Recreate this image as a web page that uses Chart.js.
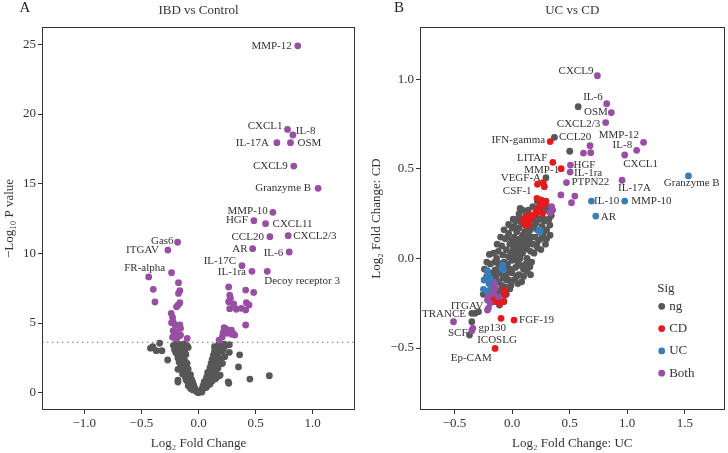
<!DOCTYPE html>
<html>
<head>
<meta charset="utf-8">
<script src="https://cdn.jsdelivr.net/npm/chart.js@4"></script>
<style>
  html, body { margin: 0; padding: 0; background: #fff; }
  #wrap { width: 728px; height: 453px; display: flex; }
  .cell { width: 364px; height: 453px; position: relative; }
  canvas { display: block; }
</style>
</head>
<body>
<div id="wrap">
  <div class="cell"><canvas id="cA" width="364" height="453"></canvas></div>
  <div class="cell"><canvas id="cB" width="364" height="453"></canvas></div>
</div>
<script>
// ---------------- DATA ----------------
// Panel A: IBD vs Control  [log2FC, -log10 P, label]
const ibdNotSig = [
  [-0.22,3.40],[-0.20,3.50],[-0.18,3.30],[-0.15,3.45],[-0.13,3.50],[-0.10,3.38],[-0.21,3.10],[-0.17,3.00],
  [-0.14,3.15],[-0.12,2.95],[-0.19,2.80],[-0.16,2.70],[-0.13,2.60],[-0.20,2.90],[-0.11,2.75],[-0.15,2.45],
  [-0.12,2.30],[-0.17,2.20],[-0.10,2.10],[-0.14,2.00],[-0.11,1.85],[-0.16,1.80],[-0.09,1.70],[-0.13,1.55],
  [-0.10,1.40],[-0.07,1.30],[-0.12,1.20],[-0.08,1.10],[-0.06,0.95],[-0.10,0.85],[-0.05,0.75],[-0.08,0.60],
  [-0.04,0.50],[-0.06,0.40],[-0.03,0.30],[-0.02,0.15],[-0.05,0.20],[-0.01,0.05],[-0.09,0.50],[-0.11,0.95],
  [-0.07,0.30],[-0.14,1.35],[-0.18,1.68],[-0.18,0.91],[-0.18,0.77],[-0.27,2.35],[-0.40,3.30],[-0.34,3.55],
  [-0.37,3.02],[-0.32,3.02],[-0.42,3.20],[-0.19,3.55],[-0.16,3.20],[-0.09,3.25],[-0.18,2.50],[-0.14,2.80],
  [-0.12,1.70],[-0.08,0.80],
  [0.18,3.55],[0.20,3.45],[0.22,3.50],[0.25,3.42],[0.27,3.45],[0.16,3.30],[0.19,3.15],[0.14,3.00],
  [0.17,2.85],[0.21,2.95],[0.13,2.70],[0.16,2.55],[0.12,2.40],[0.19,2.45],[0.15,2.25],[0.11,2.10],
  [0.20,2.10],[0.14,1.95],[0.10,1.80],[0.17,1.75],[0.12,1.60],[0.08,1.45],[0.15,1.50],[0.10,1.30],
  [0.13,1.15],[0.07,1.10],[0.09,0.95],[0.12,0.85],[0.05,0.80],[0.08,0.65],[0.04,0.50],[0.06,0.35],
  [0.03,0.25],[0.02,0.10],[0.10,0.60],[0.15,1.00],[0.19,1.27],[0.23,2.58],[0.21,2.11],[0.27,2.90],
  [0.36,2.72],[0.35,1.85],[0.45,0.98],[0.62,1.22],[0.26,0.78],[0.265,0.68],[0.18,2.00],[0.22,3.20],
  [0.00,0.00],[0.01,0.08],[-0.02,0.10],[0.03,0.05],[0.14,3.30],[0.18,1.20],[0.07,0.40]
];
const ibdSig = [
  [0.869,24.9,'MMP-12'],[0.779,18.9,'CXCL1'],[0.826,18.5,'IL-8'],[0.686,17.95,'IL-17A'],[0.805,17.95,'OSM'],
  [0.834,16.27,'CXCL9'],[1.047,14.67,'Granzyme B'],[0.651,12.95,'MMP-10'],[0.485,12.35,'HGF'],
  [0.587,12.13,'CXCL11'],[0.625,11.2,'CCL20'],[0.785,11.27,'CXCL2/3'],[0.474,10.34,'AR'],[0.794,10.1,'IL-6'],
  [0.381,9.12,'IL-17C'],[0.468,8.71,'IL-1ra'],[0.602,8.71,'Decoy receptor 3'],[-0.183,10.8,'Gas6'],
  [-0.268,10.24,'ITGAV'],[-0.436,8.31,'FR-alpha'],
  [-0.236,8.61],[-0.396,7.42],[-0.381,6.51],[-0.175,7.9],[-0.163,7.32],[-0.175,7.13],[-0.163,6.46],
  [-0.178,6.3],[-0.192,6.17],[-0.239,5.7],[-0.227,5.41],[-0.222,5.1],[-0.236,5.03],[-0.204,4.86],
  [-0.163,4.86],[-0.157,4.62],[-0.222,4.45],[-0.192,4.38],[-0.157,4.14],[-0.227,3.98],[-0.192,3.9],
  [-0.099,3.9],[-0.17,4.05],[-0.21,4.2],
  [0.264,7.59],[0.273,7.01],[0.279,6.78],[0.413,7.37],[0.483,7.2],[0.264,6.53],[0.308,6.37],[0.419,6.46],
  [0.442,6.3],[0.331,5.99],[0.375,6.06],[0.413,5.94],[0.273,6.03],[0.413,4.86],[0.244,4.57],[0.288,4.5],
  [0.258,4.26],[0.302,4.26],[0.215,4.31],[0.224,4.67],[0.293,4.19],[0.317,4.14],[0.18,3.78],[0.209,4.02]
];
const ibdThreshold = 3.62;
const ibdXTicks = [-1.0, -0.5, 0.0, 0.5, 1.0];
const ibdYTicks = [0, 5, 10, 15, 20, 25];

// Panel B: UC vs CD  [log2FC UC, log2FC CD, label]
const ucNg = [
  [0.368,0.677,'CCL20'],[0.574,0.848],[0.501,0.599],[0.294,0.451],
  [-0.292,-0.297,'ITGAV'],[-0.321,-0.306],[-0.35,-0.306],[-0.35,-0.353],[-0.37,-0.427,'SCF'],
  [-0.197,0.023],[-0.134,0.001],[-0.119,-0.027],[-0.148,-0.064],[-0.076,-0.083],[-0.047,-0.12],
  [0.083,-0.13],[0.155,-0.046],[0.212,0.075],[0.256,0.113],[0.328,0.187],[0.271,0.224],[0.06,0.249],
  [-0.18,-0.12],[-0.16,-0.15],[-0.14,-0.10],[-0.12,-0.13],[-0.10,-0.08],[-0.11,-0.18],[-0.09,-0.15],
  [-0.13,-0.20],[-0.08,-0.11],[-0.06,-0.06],[-0.07,-0.02],[-0.05,-0.09],[-0.04,-0.03],[-0.03,0.01],
  [-0.02,-0.06],[-0.01,0.03],[0.00,-0.01],[0.01,0.05],[0.02,0.00],[0.03,0.07],[0.04,0.03],[0.05,0.09],
  [0.06,0.04],[0.07,0.11],[0.08,0.07],[0.09,0.13],[0.10,0.09],[0.11,0.15],[0.12,0.11],[0.13,0.18],
  [0.14,0.14],[0.15,0.20],[0.16,0.16],[0.17,0.12],[0.18,0.22],[0.19,0.18],[0.20,0.24],[0.21,0.20],
  [0.22,0.16],[0.24,0.22],[0.26,0.18],[0.28,0.21],[0.30,0.16],[0.32,0.22],[-0.05,0.05],[-0.08,0.02],
  [-0.10,-0.03],[-0.12,-0.06],[-0.15,-0.02],[0.00,0.10],[0.02,0.12],[0.04,0.15],[-0.02,0.08],[0.06,0.17],
  [0.08,0.20],[0.10,0.22],[0.12,0.24],[0.00,-0.08],[0.03,-0.05],[0.05,-0.02],[0.07,0.00],[0.09,0.03],
  [0.11,0.05],[0.13,0.07],[0.15,0.10],[0.10,-0.06],[0.13,0.00],[0.06,-0.09],[-0.03,-0.12],[-0.06,-0.16],
  [-0.09,-0.20],[-0.15,-0.22],[-0.20,-0.14],[-0.17,-0.08],[-0.22,-0.10],[-0.24,-0.06],[0.18,0.08],
  [0.20,0.12],[0.23,0.10],[0.16,0.04],[0.25,0.27],[0.14,0.27],[0.02,0.18],[-0.04,0.12],[0.35,0.27],
  [0.31,0.29],[-0.01,-0.15],[0.04,-0.10],[0.08,-0.04],[-0.20,-0.18],[-0.25,-0.20],[0.30,0.11],
  [-0.12,0.04],[-0.09,0.07],[-0.06,0.11],[-0.03,0.14],[0.00,0.17],[0.03,0.21],[0.06,0.23],[-0.16,0.03],
  [-0.13,0.08],[-0.10,0.12],[-0.07,0.16],[0.10,-0.10],[0.13,-0.07],[0.17,-0.02],[0.19,0.03],[0.22,0.06],
  [0.25,0.05],[0.27,0.14],[0.29,0.08],[0.33,0.13],[0.02,-0.12],[-0.02,-0.17],[-0.05,-0.20],[0.05,-0.14],
  [0.12,-0.03],[0.16,-0.09],[0.24,0.15],[0.26,0.30],[0.22,0.32],[0.18,0.29],[-0.07,-0.24],[-0.11,-0.26],
  [-0.03,0.19],[0.09,0.27],[0.34,0.24],[0.29,0.27],[-0.19,-0.03],[-0.22,-0.02],[0.01,0.22],[0.07,0.28]
];
const ucCD = [
  [0.331,0.653,'IFN-gamma'],[0.354,0.537,'LITAF'],[0.426,0.502,'MMP-1'],[0.221,0.415,'VEGF-A'],
  [0.271,0.424],[0.28,0.401],[0.216,0.336,'CSF-1'],[0.294,0.321],
  [0.251,0.327],[0.279,0.308],[0.236,0.289],[0.207,0.261],[0.264,0.253],[0.178,0.234],[0.149,0.215],
  [0.121,0.206],[0.106,0.197],[0.135,0.187],[0.097,0.215],[0.126,0.234],[0.155,0.243],[0.213,0.253],
  [0.227,0.271],[0.271,0.299],[0.285,0.317],[0.141,0.197],[0.112,0.187],
  [-0.177,-0.222],[-0.148,-0.241],[-0.104,-0.25],[-0.076,-0.241],[-0.061,-0.204],[-0.061,-0.176],
  [-0.119,-0.232],[-0.096,-0.334,'ICOSLG'],[0.017,-0.344,'FGF-19'],[-0.148,-0.502,'Ep-CAM']
];
const ucUC = [
  [1.532,0.461,'Granzyme B'],[0.689,0.321,'IL-10'],[0.978,0.321,'MMP-10'],[0.727,0.237,'AR'],
  [0.242,0.146],[0.236,0.16],
  [-0.214,-0.068],[-0.206,-0.092],[-0.191,-0.111],[-0.243,-0.12],[-0.249,-0.172],[-0.177,-0.158],
  [-0.197,-0.139],[-0.214,-0.185],[-0.162,-0.13],[-0.082,-0.036],[-0.09,-0.055],[-0.076,-0.064]
];
const ucBoth = [
  [0.741,1.021,'CXCL9'],[0.822,0.865,'IL-6'],[0.862,0.815,'OSM'],[0.813,0.759,'CXCL2/3'],
  [1.142,0.649,'MMP-12'],[0.677,0.63],[1.082,0.604,'IL-8'],[0.62,0.589],[0.683,0.591],
  [0.978,0.578,'CXCL1'],[0.507,0.522,'HGF'],[0.504,0.483,'IL-1ra'],[0.955,0.437,'IL-17A'],
  [0.472,0.424,'PTPN22'],[0.424,0.355],[0.545,0.349],[0.516,0.312],[0.343,0.289],[0.349,0.271],
  [0.329,0.256],[-0.509,-0.353,'TRANCE'],[-0.35,-0.403],[-0.341,-0.39,'gp130'],
  [-0.154,-0.139],[-0.148,-0.166],[-0.162,-0.194],[-0.206,-0.213],[-0.214,-0.232],[-0.191,-0.25],
  [-0.206,-0.278],[-0.214,-0.288],[-0.119,-0.213]
];
const ucXTicks = [-0.5, 0.0, 0.5, 1.0, 1.5];
const ucYTicks = [-0.5, 0.0, 0.5, 1.0];
const sigLevels = ['ng', 'CD', 'UC', 'Both'];

// ---------------- STYLE / LAYOUT ----------------
const FONT = '"Liberation Serif", "DejaVu Serif", serif';
const TXT = '#333333';
const COL = { ng: '#575757', CD: '#E41A1C', UC: '#377EB8', Both: '#984EA3' };

// label placement: [dx, dy, align]
const placeA = {
  'MMP-12':[-6,0,'right'],'CXCL1':[-5,-3,'right'],'IL-8':[3,-4,'left'],'IL-17A':[-8,0,'right'],
  'OSM':[7,0,'left'],'CXCL9':[-6,0,'right'],'Granzyme B':[-7,0,'right'],'MMP-10':[-5,-1,'right'],
  'HGF':[-6,-1,'right'],'CXCL11':[7,0,'left'],'CCL20':[-6,0.5,'right'],'CXCL2/3':[5,0,'left'],
  'AR':[-5,0.5,'right'],'IL-6':[-6,1,'right'],'IL-17C':[-6,-5,'right'],'IL-1ra':[-6,1,'right'],
  'Decoy receptor 3':[-3,10,'left'],'Gas6':[-4,-1,'right'],'ITGAV':[-9,0,'right'],'FR-alpha':[-4,-9,'center']
};
const placeB = {
  'CXCL9':[-4,-5,'right'],'IL-6':[-4,-7,'right'],'OSM':[-3.5,0,'right'],'CXCL2/3':[-5.5,1.3,'right'],
  'CCL20':[4.5,0,'left'],'IFN-gamma':[-5,-1.4,'right'],'MMP-12':[-4.5,-7,'right'],'IL-8':[-4.5,-5.6,'right'],
  'CXCL1':[-1.5,9,'left'],'LITAF':[-5.5,-4,'right'],'HGF':[3,0,'left'],'MMP-1':[-2,1.3,'right'],
  'IL-1ra':[4,1.3,'left'],'VEGF-A':[3.5,-6,'right'],'PTPN22':[5,0,'left'],'Granzyme B':[3.3,6.7,'center'],
  'IL-17A':[-4,8,'left'],'CSF-1':[-5.4,-7.6,'right'],'IL-10':[2.7,0,'left'],'MMP-10':[6.6,0,'left'],
  'AR':[5,0.7,'left'],'ITGAV':[5,-5.7,'right'],'TRANCE':[-9.5,-7.4,'center'],'SCF':[-2,-1.7,'right'],
  'gp130':[5.7,0,'left'],'ICOSLG':[-4,21.7,'center'],'Ep-CAM':[-3.4,9.4,'right'],'FGF-19':[5,0,'left']
};

const toPts = arr => arr.map(([x, y, label]) => ({ x, y, label }));
const minus = s => String(s).replace('-', '\u2212');

const frameAndText = {
  id: 'frameAndText',
  afterDatasetsDraw(chart, args, opts) {
    const { ctx, chartArea: a } = chart;
    ctx.save();
    if (opts.threshold !== undefined) {
      const y = chart.scales.y.getPixelForValue(opts.threshold);
      ctx.strokeStyle = '#777';
      ctx.lineWidth = 1;
      ctx.setLineDash([1.5, 3.5]);
      ctx.beginPath(); ctx.moveTo(a.left, y); ctx.lineTo(a.right, y); ctx.stroke();
      ctx.setLineDash([]);
    }
    ctx.font = '11px ' + FONT;
    ctx.fillStyle = TXT;
    ctx.textBaseline = 'middle';
    chart.data.datasets.forEach((ds, i) => {
      const meta = chart.getDatasetMeta(i);
      meta.data.forEach((el, j) => {
        const lab = ds.data[j].label;
        if (!lab) return;
        const p = opts.place[lab] || [5, 0, 'left'];
        ctx.textAlign = p[2];
        ctx.fillText(lab, el.x + p[0], el.y + p[1]);
      });
    });
    ctx.restore();
  },
  afterDraw(chart, args, opts) {
    const { ctx, chartArea: a } = chart;
    ctx.save();
    ctx.strokeStyle = '#333';
    ctx.lineWidth = 1;
    ctx.strokeRect(Math.round(a.left) + 0.5, Math.round(a.top) + 0.5,
                   Math.round(a.right - a.left) - 1, Math.round(a.bottom - a.top) - 1);
    ctx.fillStyle = TXT;
    ctx.textBaseline = 'middle';
    ctx.textAlign = 'center';
    ctx.font = '13px ' + FONT;
    ctx.fillText(opts.title, (a.left + a.right) / 2, 11);
    ctx.font = '15px ' + FONT;
    ctx.fillStyle = '#222';
    ctx.fillText(opts.letter, opts.letterX, 8.5);
    if (opts.legend) {
      const L = opts.legend;
      ctx.textAlign = 'left';
      ctx.fillStyle = TXT;
      ctx.font = '13px ' + FONT;
      ctx.fillText('Sig', L.x - 4.5, L.y);
      sigLevels.forEach((s, k) => {
        const yy = L.y + 18 + k * 22.3;
        ctx.fillStyle = COL[s];
        ctx.beginPath(); ctx.arc(L.x, yy, 3.4, 0, Math.PI * 2); ctx.fill();
        ctx.fillStyle = TXT;
        ctx.fillText(s, L.x + 7.5, yy);
      });
    }
    ctx.restore();
  }
};

function axisCommon(min, max, step, fmt, title, titlePad) {
  return {
    type: 'linear', min, max,
    ticks: { stepSize: step, includeBounds: false, autoSkip: false, color: TXT, padding: 2,
             font: { family: FONT, size: 13 }, callback: v => fmt(v) },
    grid: { display: true, drawOnChartArea: false, drawTicks: true, tickLength: 4, color: '#333', tickWidth: 1 },
    border: { display: false },
    title: { display: true, text: title, color: TXT, font: { family: FONT, size: 13 }, padding: titlePad }
  };
}

function pointDs(label, pts, color, order) {
  return { label, data: toPts(pts), backgroundColor: color, borderWidth: 0,
           pointRadius: 3.4, pointHoverRadius: 3.4, order };
}

const xA = axisCommon(-1.37, 1.37, 0.5, v => minus(v.toFixed(1)), 'Log\u2082 Fold Change', { top: 0, bottom: 2 });
xA.afterFit = s => { s.height = 43; };
const yA = axisCommon(-1.24, 26.25, 5, v => minus(v.toFixed(0)), '\u2212Log\u2081\u2080 P value', { top: 2, bottom: 0 });
yA.afterFit = s => { s.width = 42; };

new Chart(document.getElementById('cA'), {
  type: 'scatter',
  data: { datasets: [ pointDs('ns', ibdNotSig, COL.ng, 2), pointDs('sig', ibdSig, COL.Both, 1) ] },
  options: {
    responsive: false, animation: false, events: [],
    layout: { padding: { left: 0, right: 9, top: 27, bottom: 0 } },
    scales: { x: xA, y: yA },
    plugins: { legend: { display: false }, tooltip: { enabled: false },
      frameAndText: { title: 'IBD vs Control', letter: 'A', letterX: 25, threshold: ibdThreshold, place: placeA } }
  },
  plugins: [frameAndText]
});

const xB = axisCommon(-0.80, 1.846, 0.5, v => minus(v.toFixed(1)), 'Log\u2082 Fold Change: UC', { top: 0, bottom: 2 });
xB.afterFit = s => { s.height = 43; };
const yB = axisCommon(-0.846, 1.293, 0.5, v => minus(v.toFixed(1)), 'Log\u2082 Fold Change: CD', { top: 5, bottom: 0 });
yB.afterFit = s => { s.width = 56; };

new Chart(document.getElementById('cB'), {
  type: 'scatter',
  data: { datasets: [
    pointDs('ng', ucNg, COL.ng, 4),
    pointDs('CD', ucCD, COL.CD, 3),
    pointDs('UC', ucUC, COL.UC, 2),
    pointDs('Both', ucBoth, COL.Both, 1)
  ] },
  options: {
    responsive: false, animation: false, events: [],
    layout: { padding: { left: 0, right: 2, top: 27, bottom: 0 } },
    scales: { x: xB, y: yB },
    plugins: { legend: { display: false }, tooltip: { enabled: false },
      frameAndText: { title: 'UC vs CD', letter: 'B', letterX: 35, place: placeB,
                      legend: { x: 297.7, y: 288.3 } } }
  },
  plugins: [frameAndText]
});
</script>
</body>
</html>
